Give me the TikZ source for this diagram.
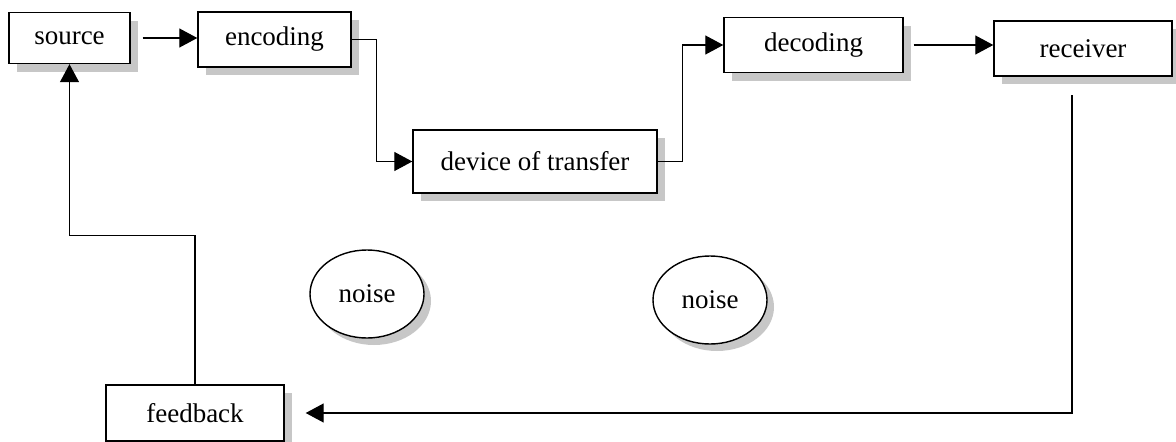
\documentclass[tikz,border=0pt]{standalone}
\usepackage{fontspec}
\setmainfont{Liberation Serif}
\usetikzlibrary{arrows.meta,shapes.geometric,shadows}
\begin{document}
\begin{tikzpicture}[x=1pt,y=-1pt,
  shd/.style={drop shadow={shadow xshift=8pt,shadow yshift=-8pt,fill=black!22,opacity=1}},
  box/.style={draw,line width=1.4pt,fill=white,rectangle,inner sep=0pt,shd,
    font=\fontsize{27}{30}\selectfont},
  noisebox/.style={draw,line width=1.4pt,fill=white,ellipse,inner sep=0pt,
    minimum width=114pt,minimum height=88pt,
    drop shadow={shadow xshift=7pt,shadow yshift=-7pt,fill=black!22,opacity=1},
    font=\fontsize{27}{30}\selectfont},
  arr/.style={line width=1.2pt,-{Triangle[length=18pt,width=19pt]}}]
\useasboundingbox (0,0) rectangle (1176,442);
\node[box,minimum width=121pt,minimum height=51pt] (source) at (69.5,38) {source};
\node[box,minimum width=153pt,minimum height=55pt] (encoding) at (274.5,39.5) {encoding};
\node[box,minimum width=244pt,minimum height=63pt] (device) at (535,161.5) {device of transfer};
\node[box,minimum width=179pt,minimum height=55pt] (decoding) at (813.5,45) {decoding};
\node[box,minimum width=178pt,minimum height=55pt] (receiver) at (1083,48.5) {receiver};
\node[box,minimum width=178pt,minimum height=56pt] (feedback) at (195,413) {feedback};
\node[noisebox] (noise1) at (367,294) {noise};
\node[noisebox] (noise2) at (710,300) {noise};
\coordinate (rcv) at (1072,95);
\draw[arr,shorten <=12pt] (source.east) -- (source.east -| encoding.west);
\draw[arr] (encoding.east) -- ++(25,0) |- (device.west);
\draw[arr] (device.east) -- ++(25,0) |- (decoding.west);
\draw[arr,shorten <=10pt] (decoding.east) -- (decoding.east -| receiver.west);
\draw[arr,shorten >=21pt] (rcv) |- (feedback.east);
\draw[arr] (feedback.north) -- ++(0,-149) -| (source.south);
\end{tikzpicture}
\end{document}
